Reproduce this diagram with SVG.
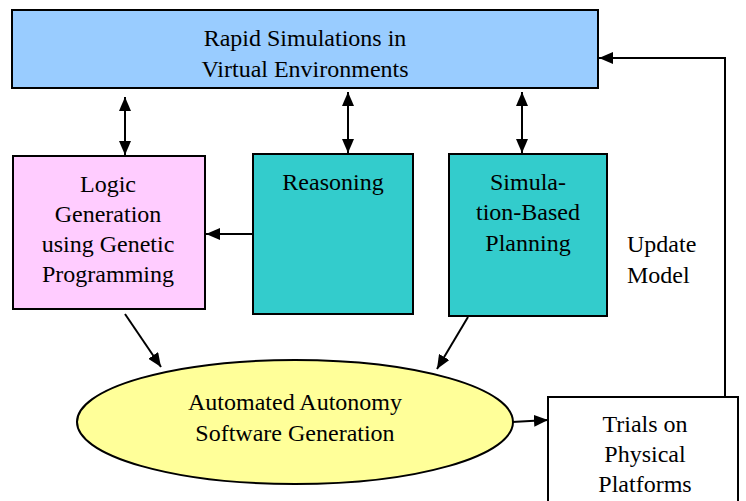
<svg xmlns="http://www.w3.org/2000/svg" width="746" height="501" viewBox="0 0 746 501">
<defs>
<marker id="ah" viewBox="0 0 14 12" refX="14" refY="6" markerWidth="14" markerHeight="12" markerUnits="userSpaceOnUse" orient="auto-start-reverse">
<path d="M0,0 L14,6 L0,12 Z" fill="#000"/>
</marker>
</defs>
<rect width="746" height="501" fill="#fff"/>
<g id="sim">
<rect x="12" y="10" width="586" height="78" fill="#99CCFF" stroke="#000" stroke-width="2"/>
<text x="305" y="46" text-anchor="middle" style="font-family:'Liberation Serif';font-size:24px">Rapid Simulations in</text>
<text x="305" y="77" text-anchor="middle" style="font-family:'Liberation Serif';font-size:24px">Virtual Environments</text>
</g>
<g id="logic">
<rect x="13" y="156" width="192" height="153" fill="#FFCCFF" stroke="#000" stroke-width="2"/>
<text x="108" y="192" text-anchor="middle" style="font-family:'Liberation Serif';font-size:24px">Logic</text>
<text x="108" y="222" text-anchor="middle" style="font-family:'Liberation Serif';font-size:24px">Generation</text>
<text x="108" y="252" text-anchor="middle" style="font-family:'Liberation Serif';font-size:24px">using Genetic</text>
<text x="108" y="282" text-anchor="middle" style="font-family:'Liberation Serif';font-size:24px">Programming</text>
</g>
<g id="reasoning">
<rect x="253" y="154" width="160" height="160" fill="#33CCCC" stroke="#000" stroke-width="2"/>
<text x="333" y="190" text-anchor="middle" style="font-family:'Liberation Serif';font-size:24px">Reasoning</text>
</g>
<g id="planning">
<rect x="449" y="154" width="158" height="162" fill="#33CCCC" stroke="#000" stroke-width="2"/>
<text x="528" y="190" text-anchor="middle" style="font-family:'Liberation Serif';font-size:24px">Simula-</text>
<text x="528" y="220" text-anchor="middle" style="font-family:'Liberation Serif';font-size:24px">tion-Based</text>
<text x="528" y="251" text-anchor="middle" style="font-family:'Liberation Serif';font-size:24px">Planning</text>
</g>
<g id="autogen">
<ellipse cx="295" cy="422" rx="218" ry="62" fill="#FFFF99" stroke="#000" stroke-width="2"/>
<text x="295" y="410" text-anchor="middle" style="font-family:'Liberation Serif';font-size:24px">Automated Autonomy</text>
<text x="295" y="441" text-anchor="middle" style="font-family:'Liberation Serif';font-size:24px">Software Generation</text>
</g>
<g id="trials">
<rect x="548" y="397" width="190" height="110" fill="#fff" stroke="#000" stroke-width="2"/>
<text x="645" y="432" text-anchor="middle" style="font-family:'Liberation Serif';font-size:24px">Trials on</text>
<text x="645" y="462" text-anchor="middle" style="font-family:'Liberation Serif';font-size:24px">Physical</text>
<text x="645" y="492" text-anchor="middle" style="font-family:'Liberation Serif';font-size:24px">Platforms</text>
</g>
<g id="update-label">
<text x="627" y="252" style="font-family:'Liberation Serif';font-size:24px">Update</text>
<text x="627" y="283" style="font-family:'Liberation Serif';font-size:24px">Model</text>
</g>
<g id="connectors" stroke="#000" stroke-width="2" fill="none">
<line x1="125" y1="97" x2="125" y2="155" marker-start="url(#ah)" marker-end="url(#ah)"/>
<line x1="348" y1="92" x2="348" y2="153" marker-start="url(#ah)" marker-end="url(#ah)"/>
<line x1="522" y1="92" x2="522" y2="153" marker-start="url(#ah)" marker-end="url(#ah)"/>
<line x1="253" y1="234" x2="206" y2="234" marker-end="url(#ah)"/>
<line x1="125" y1="314" x2="161" y2="367" marker-end="url(#ah)"/>
<line x1="468" y1="317" x2="437" y2="369" marker-end="url(#ah)"/>
<line x1="512" y1="422" x2="548" y2="420" marker-end="url(#ah)"/>
<polyline points="725,397 725,58 599,58" marker-end="url(#ah)"/>
</g>
</svg>
